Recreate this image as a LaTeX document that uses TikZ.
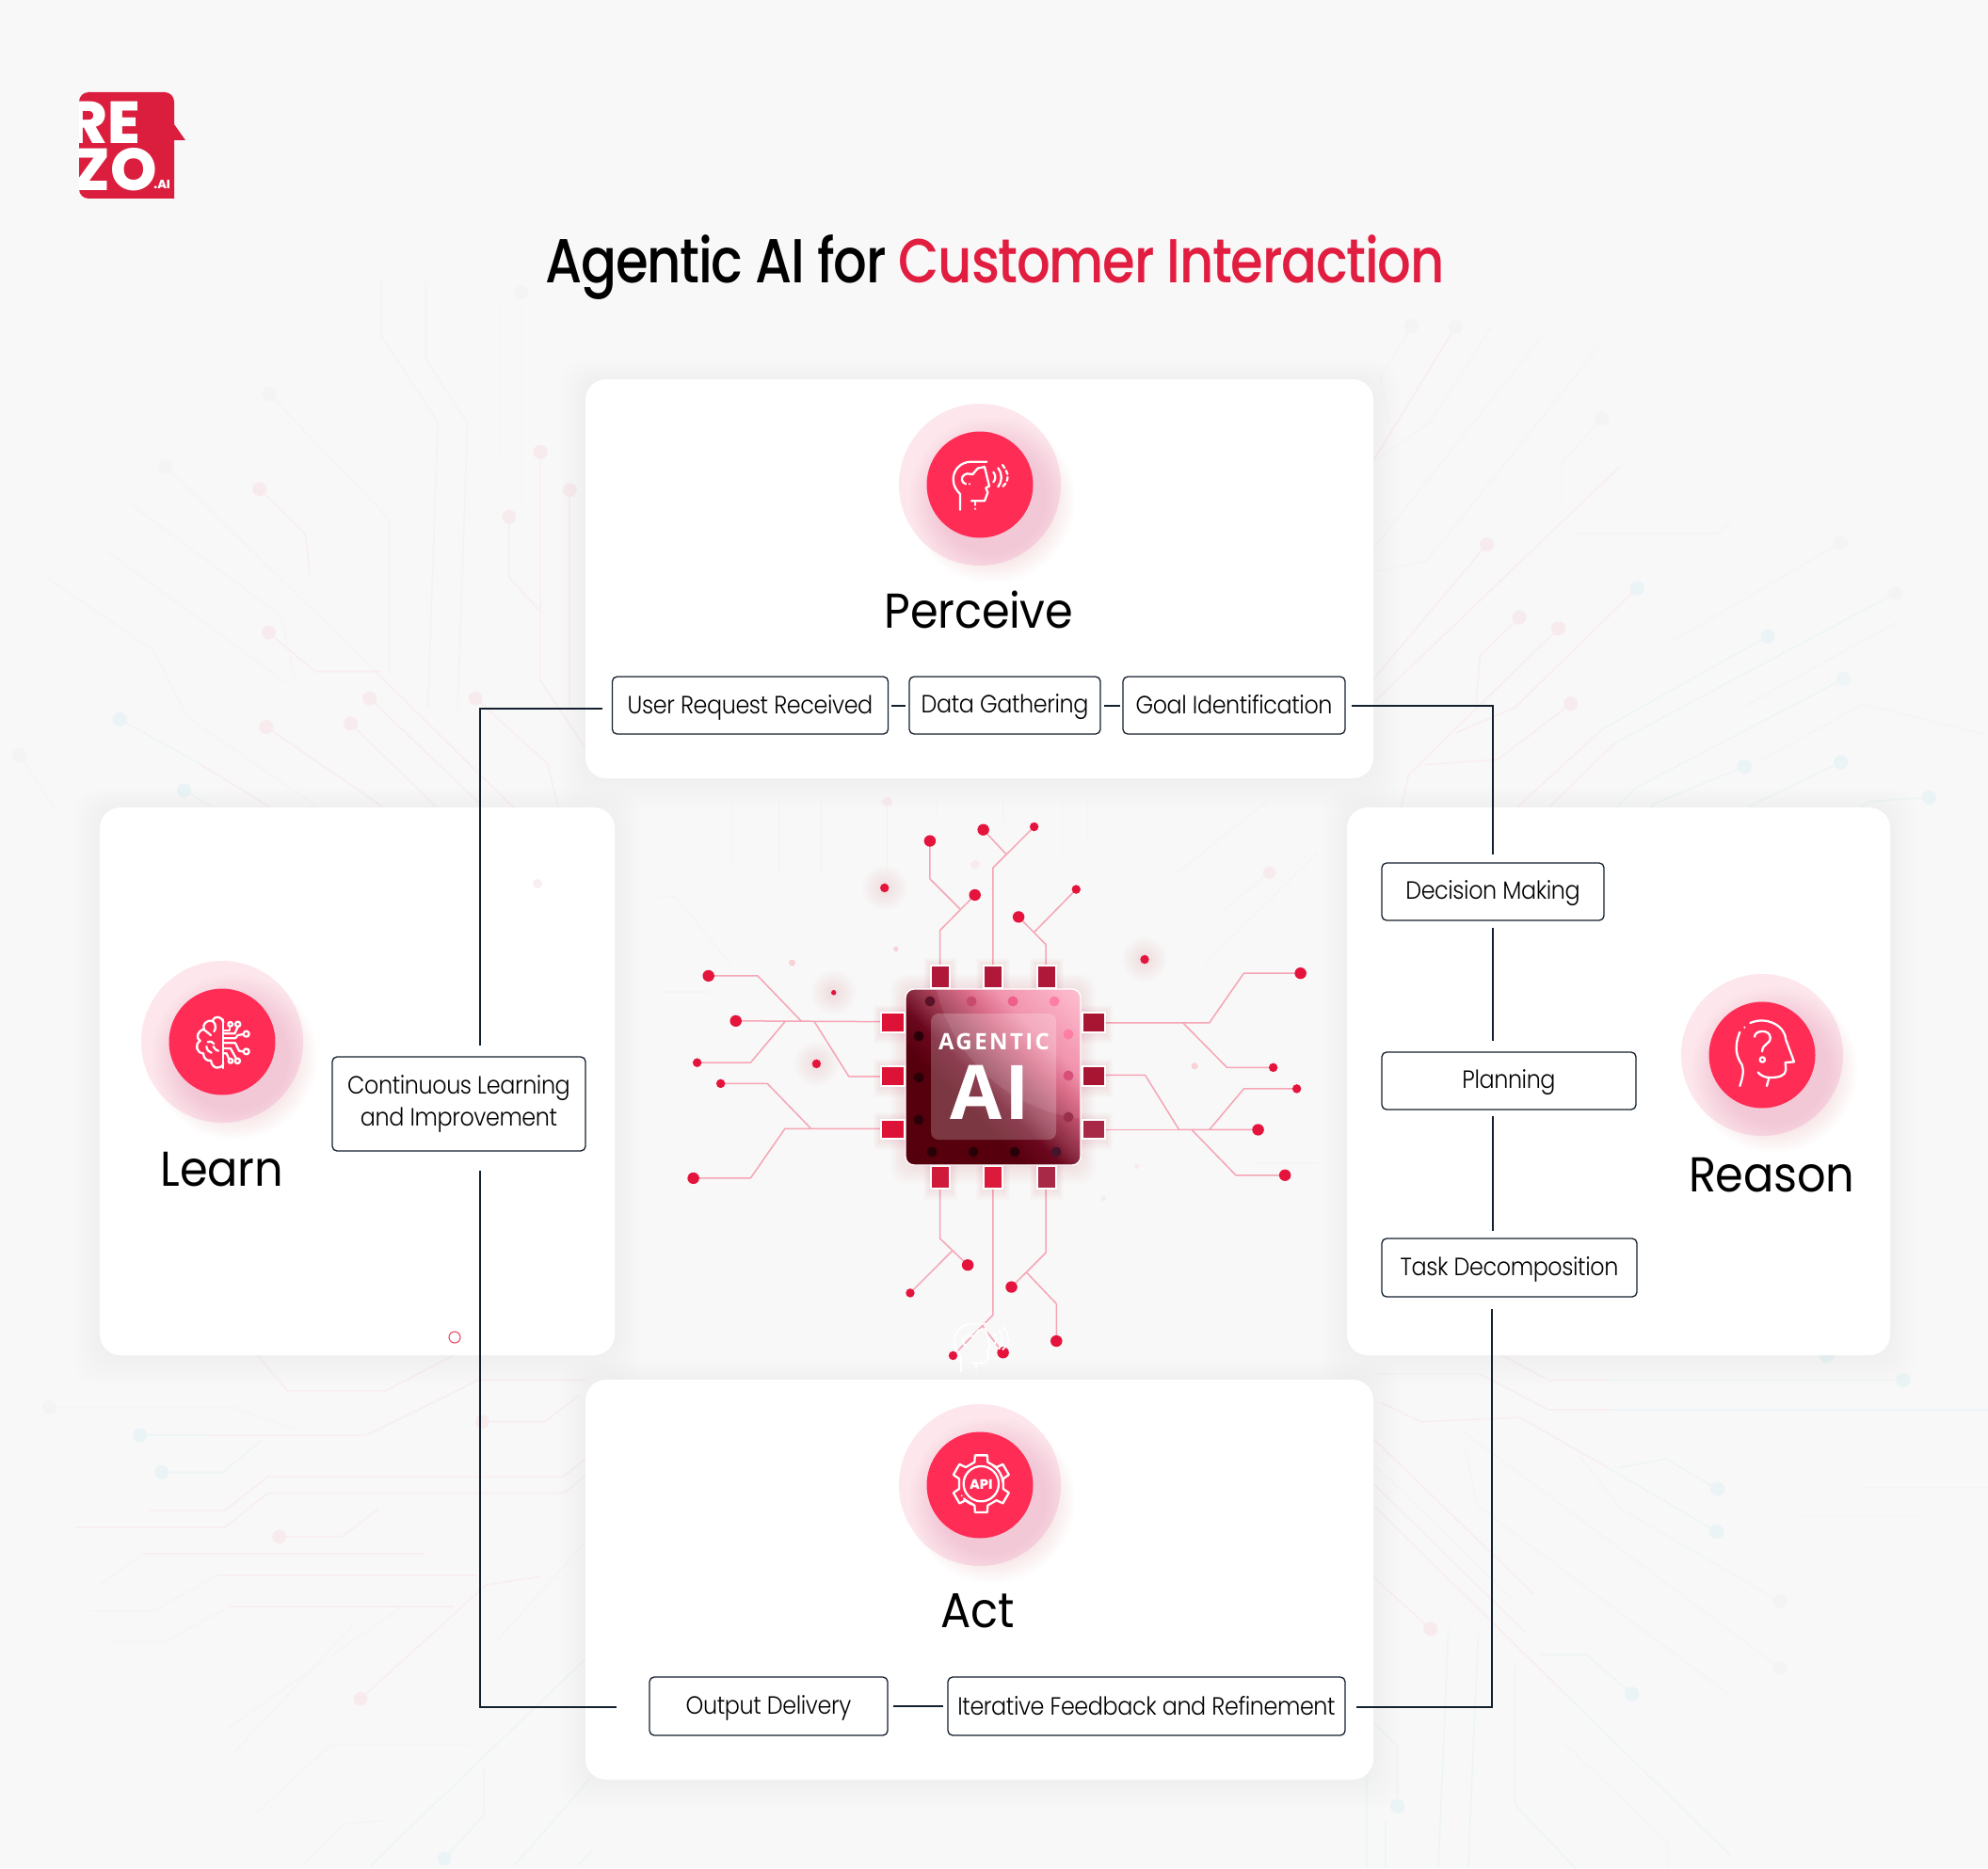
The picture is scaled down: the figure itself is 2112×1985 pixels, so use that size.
\documentclass[tikz,border=0pt]{standalone}
\usepackage{fontspec}
\setmainfont{Poppins}
\newfontfamily\ftitle{Poppins Medium}[FakeStretch=0.85,LetterSpace=-2]
\newfontfamily\fbig{Poppins}[FakeStretch=0.92,LetterSpace=-0.5]
\newfontfamily\ftag{Poppins Light}[FakeStretch=0.90,LetterSpace=-1.5]
\newfontfamily\flogo{Poppins ExtraBold}
\newfontfamily\fchip{Open Sans}[LetterSpace=10]
\newfontfamily\fchipb{Open Sans}[LetterSpace=3]
\definecolor{bgc}{HTML}{F8F8F8}
\definecolor{pl}{HTML}{F8EEF0}
\definecolor{tl}{HTML}{EEF5F6}
\definecolor{fl}{HTML}{F6F5F5}
\definecolor{pd}{HTML}{F7EBEE}
\definecolor{td}{HTML}{EAF3F5}
\definecolor{fd}{HTML}{F5F4F4}
\definecolor{navy}{HTML}{14202E}
\definecolor{brand}{HTML}{DC1E3E}
\definecolor{titlered}{HTML}{E11D40}
\definecolor{icred}{HTML}{FF2D55}
\definecolor{icpale}{HTML}{FDE7EC}
\definecolor{tr}{HTML}{F6A5B5}
\definecolor{trd}{HTML}{E4143C}
\pgfdeclareverticalshading{chipshade}{100bp}{
  rgb(0bp)=(0.33,0,0.05);
  rgb(38bp)=(0.34,0,0.05);
  rgb(46bp)=(0.42,0.03,0.12);
  rgb(51bp)=(0.55,0.18,0.27);
  rgb(62bp)=(0.85,0.38,0.50);
  rgb(68bp)=(0.94,0.54,0.65);
  rgb(85bp)=(1,0.72,0.80);
  rgb(100bp)=(1,0.72,0.80)}
\tikzset{
  pz/.style={draw=pl,line width=.8pt},
  tz/.style={draw=tl,line width=.8pt},
  fz/.style={draw=fl,line width=.7pt},
  tracez/.style={draw=tr,line width=.75pt,line join=round},
  conn/.style={draw=navy,line width=1pt},
  tagbox/.style={draw=navy,line width=.65pt,fill=white,rounded corners=2.5pt,inner sep=0pt,align=center,font=\ftag\fontsize{13.25}{17}\selectfont,text=black},
  tagone/.style={tagbox,execute at begin node={\rule[-2.8pt]{0pt}{14.8pt}}},
  biglabel/.style={font=\fbig\fontsize{26}{30}\selectfont,text=black,inner sep=0pt},
  iconz/.style={draw=white,line width=1.15pt,line cap=round,line join=round},
}
\newcommand\zd[3]{\fill[#1] (#2,#3) circle[x radius=18,y radius=21];}
\newcommand\cardshadow[4]{\foreach \i in {1,...,8}{\fill[black,opacity=.005,rounded corners=13pt] ({#1-\i*3.5},{#2-\i*2.5}) rectangle ({#3+\i*3.5},{#4+\i*4});}}
\newcommand\cardfill[4]{\fill[white,rounded corners=11pt] (#1,#2) rectangle (#3,#4);}
\newcommand\badge[2]{%
  \fill[icpale] (#1,#2) circle[radius=86];
  \foreach \r in {58,61,...,88}{\fill[icred!80!black,opacity=.013] ({#1+13},{#2+16}) circle[radius=\r];}
  \fill[icred] (#1,#2) circle[radius=56.5];}
\newcommand\headicon[3]{%
  \begin{scope}[shift={(#1,#2)},scale=.3333,iconz,line width=#3]
  \draw (325,212) -- (275,212) .. controls (240,212) and (218,240) .. (218,268) .. controls (218,290) and (230,305) .. (240,315) -- (240,365);
  \draw (296,233) -- (318,228) -- (333,290) -- (322,295) -- (328,310) -- (318,337) -- (276,337);
  \draw (288,337) -- (288,350);
  \fill[white] (288,362) circle[radius=3.5];
  \draw (296,233) -- (280,252) -- (262,250) .. controls (248,252) and (240,268) .. (250,278) -- (258,283);
  \fill[white] (270,283) circle[radius=3.5];
  \draw (346,245) .. controls (354,255) and (354,268) .. (346,277);
  \draw (361,232) .. controls (375,250) and (375,275) .. (361,292);
  \draw[dash pattern=on 2pt off 1.6pt] (375,222) .. controls (397,250) and (397,272) .. (375,292);
  \end{scope}}
\begin{document}
\begin{tikzpicture}[x=.5pt,y=-.5pt]
\useasboundingbox (0,0) rectangle (2112,1985);
\fill[bgc] (0,0) rectangle (2112,1985);
% ---------- faint background circuit (top left)
\begin{scope}[shift={(0,300)},xscale=.4209,yscale=.3571]
\draw[fz] (680,332)--(983,706)--(983,1170);
\draw[pz,draw=pl!60!bgc] (962,0)--(962,160)--(1105,415)--(1080,1270);
\draw[pz,draw=pl!60!bgc] (1075,0)--(1075,230)--(1180,418)--(1155,1270);
\draw[fz] (1315,30)--(1315,680);
\draw[fz] (1265,60)--(1265,530);
\draw[pz] (1364,505)--(1364,1185)--(1478,1385);
\draw[pz] (1438,618)--(1438,1260);
\draw[pz] (1285,698)--(1285,878)--(1360,975);
\draw[pz] (655,615)--(770,748)--(782,870);
\draw[fz] (418,548)--(950,1160);
\draw[pz] (950,1160)--(1300,1568);
\draw[fz] (330,660)--(708,992)--(745,1180);
\draw[fz] (270,800)--(720,1190);
\draw[fz] (120,880)--(388,1095)--(472,1293)--(800,1560);
\draw[pz] (678,1042)--(795,1158)--(960,1158);
\draw[pz] (933,1238)--(1210,1550);
\draw[pz] (1200,1238)--(1382,1432)--(1410,1568);
\draw[pz] (672,1323)--(965,1560);
\draw[pz] (885,1313)--(1100,1560);
\draw[tz] (302,1300)--(500,1430);
\draw[pz] (500,1430)--(680,1560);
\draw[fz] (50,1407)--(135,1560);
\draw[tz] (465,1512)--(535,1560);
\zd{fd}{680}{332}\zd{pd}{655}{615}\zd{fd}{418}{548}\zd{pd}{1364}{505}\zd{pd}{1438}{618}\zd{pd}{1285}{698}
\zd{pd}{678}{1042}\zd{pd}{933}{1238}\zd{pd}{1200}{1238}\zd{pd}{672}{1323}\zd{pd}{885}{1313}\zd{td}{302}{1300}\zd{fd}{50}{1407}\zd{td}{465}{1512}\zd{fd}{1315}{30}
\end{scope}
% ---------- top right
\begin{scope}[shift={(1450,300)},xscale=.4221,yscale=.3571]
\draw[fz] (117,130)--(40,283)--(60,420);
\draw[pz] (228,132)--(22,530);
\draw[fz] (320,130)--(165,415)--(22,535);
\draw[fz] (440,170)--(22,790);
\draw[fz] (590,190)--(155,830)--(30,860);
\draw[fz] (596,405)--(498,535)--(498,660);
\draw[pz] (640,550)--(22,1250);
\draw[pz] (307,780)--(22,1180);
\draw[fz] (920,715)--(885,748)--(520,748);
\draw[pz] (389,997)--(290,1110)--(280,1250);
\draw[pz] (487,1030)--(110,1465)--(90,1568);
\draw[pz] (685,910)--(378,1265)--(230,1340);
\draw[pz] (518,1254)--(335,1420)--(150,1435);
\draw[tz] (1014,1053)--(597,1330);
\draw[pz] (597,1330)--(385,1560);
\draw[tz] (1335,925)--(628,1372);
\draw[pz] (628,1372)--(465,1560);
\draw[tz] (1205,1180)--(685,1502)--(635,1560);
\draw[tz] (1198,1428)--(965,1560);
\draw[tz] (955,1441)--(730,1550)--(720,1560);
\draw[tz] (1420,1533)--(1265,1545)--(1240,1568);
\draw[fz] (1198,775)--(770,1070);
\draw[fz] (1340,1010)--(950,1265);
\draw[fz] (1560,1345)--(1255,1255)--(1000,1420);
\zd{fd}{117}{130}\zd{fd}{228}{132}\zd{fd}{596}{405}\zd{pd}{307}{780}\zd{pd}{389}{997}\zd{pd}{487}{1030}
\zd{td}{685}{910}\zd{pd}{518}{1254}\zd{td}{1014}{1053}\zd{fd}{1335}{925}\zd{td!70!bgc}{1205}{1180}\zd{td}{1198}{1428}\zd{td}{955}{1441}\zd{td}{1420}{1533}\zd{fd}{1198}{775}
\end{scope}
% ---------- bottom left
\begin{scope}[shift={(0,1430)},xscale=.4018,yscale=.354]
\draw[pz] (680,28)--(760,135)--(1020,135)--(1200,28);
\draw[fz] (130,185)--(620,185)--(790,255);
\draw[tz] (370,268)--(550,268);
\draw[pz] (550,268)--(970,268)--(1265,103)--(1548,103);
\draw[tz] (428,380)--(590,380)--(690,285);
\draw[pz] (200,545)--(595,545)--(708,442)--(1490,442)--(1548,390);
\draw[pz] (395,495)--(595,495)--(708,393)--(1490,393)--(1548,340);
\draw[pz] (738,573)--(905,573)--(1000,490);
\draw[pz] (1275,228)--(1440,228)--(1530,150);
\draw[fz] (260,720)--(380,625);
\draw[pz] (380,625)--(1120,625);
\draw[fz] (240,797)--(402,797)--(575,690);
\draw[pz] (575,690)--(1260,690);
\draw[fz] (300,888)--(435,888)--(608,783);
\draw[pz] (608,783)--(1200,783);
\draw[pz] (953,1060)--(1285,718)--(1430,692);
\draw[fz] (1310,890)--(1548,590);
\draw[fz] (600,1150)--(1060,785);
\draw[fz] (620,1220)--(940,830);
\draw[fz] (680,1400)--(875,1197)--(1240,1197);
\draw[fz] (800,1560)--(910,1435)--(1010,1425);
\draw[tz] (980,1560)--(1548,940);
\draw[tz] (1175,1540)--(1280,1408)--(1280,1270);
\draw[tz] (1360,1560)--(1560,1300);
\draw[tz] (1530,1560)--(1568,1510);
\zd{fd}{130}{185}\zd{td}{370}{268}\zd{td}{428}{380}\zd{pd}{738}{573}\zd{pd}{1275}{228}\zd{pd}{953}{1060}\zd{td}{1175}{1540}
\end{scope}
% ---------- bottom right
\begin{scope}[shift={(1450,1430)},xscale=.4221,yscale=.354]
\draw[pz] (345,28)--(462,103)--(610,103);
\draw[tz] (610,103)--(1355,103);
\draw[fz] (30,85)--(290,85);
\draw[pz] (290,85)--(462,192)--(620,192);
\draw[tz] (620,192)--(1568,192);
\draw[pz] (40,170)--(140,228)--(390,215)--(610,365);
\draw[tz] (610,365)--(885,558);
\draw[tz] (888,430)--(758,340)--(640,365);
\draw[fz] (250,260)--(1045,968);
\draw[fz] (250,300)--(283,480)--(920,1050);
\draw[tz,draw=tl!60!bgc] (540,330)--(645,490)--(1045,768);
\draw[pz] (22,280)--(425,745);
\draw[fz] (22,355)--(380,770);
\draw[pz] (22,415)--(405,862);
\draw[pz] (22,480)--(500,1040);
\draw[tz] (500,1040)--(920,1530);
\draw[pz] (22,695)--(165,850);
\draw[tz] (672,1045)--(558,928)--(440,928);
\draw[tz] (210,850)--(185,1568);
\draw[tz] (285,865)--(260,1568);
\draw[tz] (378,960)--(378,1378)--(530,1568);
\draw[tz] (22,1130)--(82,1203)--(82,1382);
\draw[tz] (5,1285)--(5,1568);
\draw[tz] (52,1430)--(52,1568);
\draw[fz] (500,1190)--(762,1490)--(762,1568);
\draw[fz] (1250,425)--(1568,425);
\draw[fz] (1080,513)--(1400,513);
\draw[fz] (1300,290)--(1568,290);
\zd{td}{1355}{103}\zd{td}{1162}{30}\zd{td}{888}{430}\zd{td}{885}{558}\zd{fd}{1045}{768}\zd{fd}{1045}{968}\zd{td}{672}{1045}\zd{pd}{165}{850}\zd{td}{82}{1382}
\end{scope}
% ---------- faint marks around the chip
\begin{scope}[shift={(700,850)},xscale=.4464,yscale=.396]
\draw[fz] (175,0)--(175,170);
\draw[fz] (287,0)--(287,200);
\draw[fz] (385,0)--(385,200);
\draw[pz] (543,0)--(543,190);
\draw[fz] (660,0)--(660,60);
\draw[fz] (820,0)--(820,60);
\draw[fz] (960,0)--(960,150);
\draw[fz] (1020,0)--(1020,120);
\draw[fz] (1453,195)--(1340,300);
\draw[fz] (1450,0)--(1230,200);
\draw[fz] (1568,140)--(1300,440);
\draw[fz] (0,260)--(40,260)--(170,440);
\draw[fz] (0,515)--(120,515);
\draw[fz] (1420,975)--(1568,975);
\draw[fz] (1450,880)--(1568,880);
\fill[pd] (543,5) circle[x radius=13,y radius=12];
\fill[pd] (753,173) circle[x radius=11,y radius=12];
\fill[pd] (1453,195) circle[x radius=15,y radius=17];
\fill[pd!90!red] (317,437) circle[x radius=8,y radius=9];
\fill[pd!90!red] (564,400) circle[x radius=6,y radius=7];
\fill[pd!90!red] (1275,714) circle[x radius=8,y radius=9];
\fill[pd] (1137,983) circle[x radius=6,y radius=7];
\fill[pd] (1058,1070) circle[x radius=6,y radius=7];
\end{scope}
% ---------- cards
\cardshadow{622}{403}{1459}{827}
\cardshadow{106}{858}{653}{1440}
\cardshadow{1431}{858}{2008}{1440}
\cardshadow{622}{1466}{1459}{1891}
\cardfill{622}{403}{1459}{827}
\cardfill{106}{858}{653}{1440}
\cardfill{1431}{858}{2008}{1440}
\cardfill{622}{1466}{1459}{1891}
\fill[pd!80!white] (571,939) circle[radius=5];
\draw[draw=titlered!80!white,line width=.55pt,fill=white] (483,1421) circle[radius=6];
% ---------- logo
\fill[brand] (84,108) [rounded corners=5pt] -- (84,98) -- (185,98) [sharp corners] -- (185,132) -- (197,149) -- (185,149) -- (185,211) [rounded corners=5pt] -- (84,211) [sharp corners] -- cycle;
\begin{scope}
\clip (84,98) rectangle (185,211);
\node[anchor=base west,inner sep=0pt,text=white,font=\flogo\fontsize{31.5}{32}\selectfont] (logore) at (72,153) {RE};
\node[anchor=base west,inner sep=0pt,text=white,font=\flogo\fontsize{31.5}{32}\selectfont] (logozo) at (78,203) {ZO};
\node[anchor=base west,inner sep=0pt,text=white,font=\flogo\fontsize{6.4}{7}\selectfont] (logoai) at (163,200) {.AI};
\end{scope}
% ---------- title
\node[inner sep=0pt,font=\ftitle\fontsize{33}{38}\selectfont,text=black] (titlet) at (1057,284) {Agentic AI for \textcolor{titlered}{Customer Interaction}};
% ---------- chip circuit
\begin{scope}[shift={(700,850)},xscale=.4464,yscale=.396]
\draw[tracez] (669,443)--(669,350)--(752,255);
\draw[tracez] (716,292)--(645,212)--(645,110);
\draw[tracez] (795,443)--(795,182)--(893,72);
\draw[tracez] (826,145)--(772,80);
\draw[tracez] (921,443)--(921,388)--(856,314);
\draw[tracez] (893,355)--(993,240);
\draw[tracez] (530,595)--(183,593);
\draw[tracez] (340,595)--(235,472)--(118,472);
\draw[tracez] (300,595)--(218,705)--(91,705);
\draw[tracez] (530,742)--(452,742)--(370,595);
\draw[tracez] (530,882)--(300,882)--(218,1015)--(82,1015);
\draw[tracez] (362,882)--(258,761)--(147,761);
\draw[tracez] (1062,598)--(1310,598)--(1392,465)--(1527,465);
\draw[tracez] (1247,598)--(1352,718)--(1462,718);
\draw[tracez] (1062,738)--(1157,738)--(1238,885)--(1426,885);
\draw[tracez] (1062,885)--(1238,885);
\draw[tracez] (1310,885)--(1392,775)--(1518,775);
\draw[tracez] (1268,885)--(1373,1007)--(1490,1007);
\draw[tracez] (669,1040)--(669,1177)--(735,1248);
\draw[tracez] (698,1210)--(598,1323);
\draw[tracez] (795,1040)--(795,1382)--(700,1491);
\draw[tracez] (770,1412)--(819,1483);
\draw[tracez] (921,1040)--(921,1215)--(839,1307);
\draw[tracez] (875,1268)--(946,1352)--(946,1452);
% glowing free dots
\foreach \gx/\gy in {537/236,375/708,1156/428,416/517}{\foreach \r in {12,18,...,54}{\fill[trd,opacity=.011] (\gx,\gy) circle[x radius=\r,y radius=\r*1.12];}}
\foreach \dx/\dy in {752/255,645/110,772/80,856/314,118/472,183/593,82/1015,1527/465,1426/885,1490/1007,735/1248,839/1307,819/1483,946/1452}{\fill[trd] (\dx,\dy) circle[x radius=14,y radius=15.5];}
\foreach \dx/\dy in {893/72,993/240,91/705,147/761,1462/718,1518/775,598/1323,700/1491,537/236,375/708,1156/428}{\fill[trd] (\dx,\dy) circle[x radius=10.5,y radius=12];}
\fill[trd] (416,517) circle[x radius=6,y radius=7];
\fill[white] (819,1474) circle[x radius=3,y radius=3.5];
\end{scope}
% ---------- chip glow
\foreach \r in {1,...,8}{\fill[trd,opacity=.01,rounded corners=8pt] ({962-\r*2},{1051-\r*2}) rectangle ({1148+\r*2},{1238+\r*2.5});
 \fill[trd,opacity=.011] ({936-\r},{1076-\r}) rectangle ({1174+\r},{1097+\r*1.5});
 \fill[trd,opacity=.011] ({936-\r},{1133-\r}) rectangle ({1174+\r},{1154+\r*1.5});
 \fill[trd,opacity=.011] ({936-\r},{1190-\r}) rectangle ({1174+\r},{1210+\r*1.5});
 \fill[trd,opacity=.011] ({989-\r},{1026-\r}) rectangle ({1009+\r},{1263+\r*1.5});
 \fill[trd,opacity=.011] ({1045-\r},{1026-\r}) rectangle ({1065+\r},{1263+\r*1.5});
 \fill[trd,opacity=.011] ({1102-\r},{1026-\r}) rectangle ({1122+\r},{1263+\r*1.5});}
% pads
\foreach \py/\pyb/\cl/\cr in {1076/1097/DC1236/A81532,1133/1154/DC1236/A81532,1190/1210/DC1236/A82848}{
 \definecolor{pc}{HTML}{\cl}\definecolor{qc}{HTML}{\cr}
 \draw[white,line width=.6pt,fill=pc] (936,\py) rectangle (961,\pyb);
 \draw[white,line width=.6pt,fill=qc] (1150,\py) rectangle (1174,\pyb);}
\foreach \px/\pxb/\ct/\cb in {989/1009/B0183A/D01A3C,1045/1065/B0183A/DC1A3C,1102/1122/B0183A/A82848}{
 \definecolor{pc}{HTML}{\ct}\definecolor{qc}{HTML}{\cb}
 \draw[white,line width=.6pt,fill=pc] (\px,1026) rectangle (\pxb,1050);
 \draw[white,line width=.6pt,fill=qc] (\px,1239) rectangle (\pxb,1263);}
% body
\begin{scope}
\clip[rounded corners=4.5pt] (962,1051) rectangle (1148,1238);
\shade[shading=chipshade,shading angle=-45] (962,1051) rectangle (1148,1238);
\fill[white,opacity=.09] (1170,1010) circle[radius=180];
\foreach \ddx/\ddy/\ddc in {988/1064/5A1228,1032/1064/C84B6E,1076/1064/EF5F8C,1120/1064/FF7EA4,
 976/1101/2A0008,976/1145/2A0008,976/1190/2A0008,1135/1099/FF7EA4,1135/1143/D94F78,1135/1187/98304C,
 990/1224/2A0008,1034/1224/2A0008,1078/1224/2A0008,1122/1224/43142A}{
 \definecolor{dc}{HTML}{\ddc}\fill[dc] (\ddx,\ddy) circle[radius=5.5];}
\end{scope}
\draw[white,line width=.7pt,rounded corners=4.5pt] (962,1051) rectangle (1148,1238);
\fill[white,opacity=.22,rounded corners=4pt] (989,1077) rectangle (1122,1211);
\node[inner sep=0pt,text=white,font=\fchip\bfseries\fontsize{12}{14}\selectfont] (chipagentic) at (1056,1107) {AGENTIC};
\node[inner sep=0pt,text=white,font=\fchipb\fontsize{40}{44}\selectfont\bfseries] (chipai) at (1052,1161) {AI};
% ghost head icon below the chip
\headicon{941}{1336}{.9pt}
% ---------- badges
\badge{1041}{515}
\badge{236}{1107}
\badge{1872}{1121}
\badge{1041}{1578}
\headicon{940}{420}{1.15pt}
% brain
\begin{scope}[shift={(150,1020)},scale=.3333,iconz]
\draw (262,190)--(262,345);
\draw (262,200) .. controls (258,178) and (232,176) .. (228,195) .. controls (208,190) and (195,205) .. (200,220) .. controls (180,225) and (172,250) .. (188,258) .. controls (168,270) and (178,298) .. (198,298) .. controls (198,315) and (212,324) .. (222,320) .. controls (225,348) and (255,352) .. (262,330);
\draw (228,195) .. controls (240,205) and (238,222) .. (232,228);
\draw (200,222) .. controls (210,230) and (212,232) .. (222,240);
\draw (212,262) .. controls (222,258) and (228,262) .. (232,268);
\draw (208,276) .. controls (210,288) and (216,294) .. (224,296);
\draw (230,276) .. controls (236,286) and (240,288) .. (246,290);
\draw (262,225)--(282,225)--(282,212);
\draw (284,205) circle[radius=7];
\draw (262,235)--(298,235)--(308,213);
\draw (308,205) circle[radius=8];
\draw (262,250)--(300,250)--(308,240)--(326,237);
\draw (335,236) circle[radius=9];
\draw (262,265)--(300,265)--(312,290)--(326,292);
\draw (335,292) circle[radius=9];
\draw (262,282)--(285,282)--(303,315);
\draw (307,322) circle[radius=8];
\draw (262,298)--(272,298)--(280,316);
\draw (285,322) circle[radius=7];
\end{scope}
% reason head
\begin{scope}[shift={(1780,1030)},scale=.3333,iconz]
\draw (238,171) .. controls (290,148) and (350,180) .. (352,225) -- (378,295) -- (350,297) -- (352,320) .. controls (350,340) and (330,345) .. (300,345) .. controls (285,345) and (270,338) .. (263,328);
\draw (298,345)--(291,372);
\draw (205,200) .. controls (185,250) and (195,280) .. (212,305) .. controls (220,325) and (212,350) .. (205,372);
\fill[white] (220,185) circle[radius=3.5];
\draw (252,215) .. controls (252,193) and (302,190) .. (302,218) .. controls (302,240) and (278,235) .. (276,262);
\draw (277,288) circle[radius=8];
\end{scope}
% gear
\begin{scope}[shift={(940,1480)},scale=.3333,iconz]
\draw ({307+72*cos(107)},{290+72*sin(107)})
  \foreach \aa in {90,30,-30,-90,-150,-210}{ -- ({307+72*cos(\aa+17)},{290+72*sin(\aa+17)}) -- ({307+93*cos(\aa+12)},{290+93*sin(\aa+12)}) -- ({307+93*cos(\aa-12)},{290+93*sin(\aa-12)}) -- ({307+72*cos(\aa-17)},{290+72*sin(\aa-17)})} -- cycle;
\draw (307,290) circle[radius=56];
\draw (345,232) arc[start angle=-57,end angle=-5,radius=69];
\fill[white] (335,224) circle[radius=3];
\draw (252,337) arc[start angle=140,end angle=115,radius=70];
\fill[white] (245,328) circle[radius=3];
\node[inner sep=0pt,text=white,font=\flogo\fontsize{7.2}{8}\selectfont] (apitext) at (307,292) {API};
\end{scope}
% ---------- labels
\node[biglabel] (lperceive) at (1040,648) {Perceive};
\node[biglabel] (llearn) at (236,1243) {Learn};
\node[biglabel] (lreason) at (1882,1249) {Reason};
\node[biglabel] (lact) at (1039,1712) {Act};
% ---------- tag boxes
\node[tagone,minimum width=146.5pt,minimum height=30.5pt] (user) at (797,749.5) {User Request Received};
\node[tagone,minimum width=101.5pt,minimum height=30.5pt] (data) at (1067.5,749.5) {Data Gathering};
\node[tagone,minimum width=118pt,minimum height=30.5pt] (goal) at (1311,749.5) {Goal Identification};
\node[tagone,minimum width=118pt,minimum height=30.5pt] (decision) at (1586,947.5) {Decision Making};
\node[tagone,minimum width=135pt,minimum height=30.5pt] (planning) at (1603,1148.5) {Planning};
\node[tagone,minimum width=135.5pt,minimum height=31pt] (task) at (1603.5,1347) {Task Decomposition};
\node[tagbox,minimum width=134.5pt,minimum height=50pt] (cont) at (487.5,1173) {Continuous Learning\\and Improvement};
\node[tagone,minimum width=126.5pt,minimum height=31pt] (output) at (816.5,1813) {Output Delivery};
\node[tagone,minimum width=211pt,minimum height=31pt] (iter) at (1218,1813) {Iterative Feedback and Refinement};
% ---------- connectors
\draw[conn] ([shift={(-10,3.5)}]user.west) -| ([shift={(22.5,-11)}]cont.north);
\draw[conn] ([shift={(22,20)}]cont.south) |- ([shift={(-34,1)}]output.west);
\draw[conn] ([shift={(3,0)}]user.east) -- ([shift={(-3,0)}]data.west);
\draw[conn] ([shift={(3,0)}]data.east) -- ([shift={(-2,0)}]goal.west);
\draw[conn] ([shift={(6,0)}]goal.east) -| ([shift={(0,-8)}]decision.north);
\draw[conn] ([shift={(0,7)}]decision.south) -- ([shift={(-17,-11)}]planning.north);
\draw[conn] ([shift={(-17,6)}]planning.south) -- ([shift={(-17.5,-7)}]task.north);
\draw[conn] ([shift={(-18.5,12)}]task.south) |- ([shift={(11,1)}]iter.east);
\draw[conn] ([shift={(5,0)}]output.east) -- ([shift={(-4,0)}]iter.west);
\end{tikzpicture}
\end{document}
